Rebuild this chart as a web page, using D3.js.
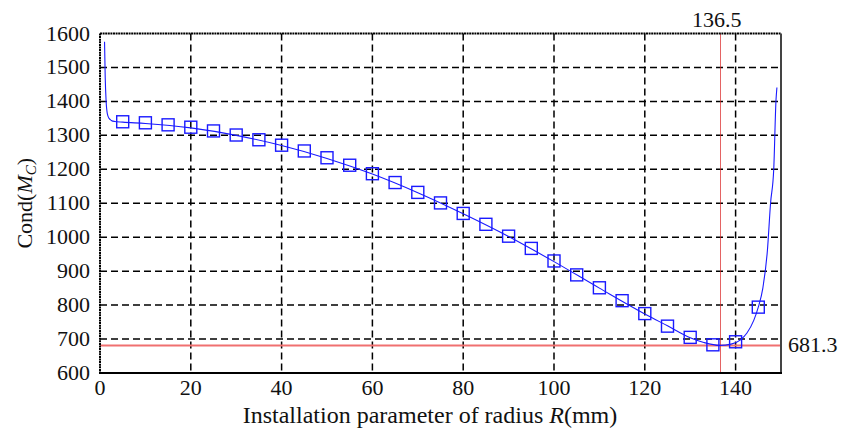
<!DOCTYPE html>
<html>
<head>
<meta charset="utf-8">
<script src="https://cdn.jsdelivr.net/npm/d3@7"></script>
<style>
  body { margin: 0; background: #fff; }
</style>
</head>
<body>
<div id="app"></div>
<script>

//
// Data
//

// sampled points (markers), every 5 mm
const markerR = [5, 10, 15, 20, 25, 30, 35, 40, 45, 50, 55, 60, 65, 70, 75,
  80, 85, 90, 95, 100, 105, 110, 115, 120, 125, 130, 135, 140, 145]
const markerCond = [1340, 1337, 1331, 1324, 1313, 1301, 1287, 1271, 1254, 1234, 1212, 1187, 1161, 1132, 1101,
  1070, 1038, 1003, 967, 930, 889, 851, 813, 775, 738, 705, 683, 692, 794]

// continuous curve
const curveR = [1.0, 1.15, 1.35, 1.6, 2.0, 2.5, 3.2, 5, 10, 20, 30, 40, 50, 60, 70, 80, 90, 100,
  110, 120, 125, 130, 133, 136.5, 139, 141, 142.5, 144, 145, 146, 147, 147.7, 148.4, 148.9, 149.1]
const curveCond = [1576, 1470, 1400, 1365, 1350, 1344, 1341, 1339, 1335, 1322, 1300, 1270, 1232, 1186, 1131, 1069, 1002, 928,
  850, 774, 739, 704, 690, 681.3, 685, 697, 718, 755, 794, 850, 960, 1100, 1200, 1404, 1441]

const xTicks = [0, 20, 40, 60, 80, 100, 120, 140]
const yTicks = [600, 700, 800, 900, 1000, 1100, 1200, 1300, 1400, 1500, 1600]

const minR = 136.5
const minCond = 681.3


//
// Constants
//

const width = 856
const height = 429
const margin = { top: 33.5, right: 75, bottom: 56, left: 100 }
const innerW = width - margin.left - margin.right
const innerH = height - margin.top - margin.bottom
const blue = '#1a1aff'
const fontSize = 22
const titleSize = 24
const serif = '"Liberation Serif", "Times New Roman", Times, "DejaVu Serif", serif'


//
// Scales
//

const x = d3.scaleLinear().domain([0, 150]).range([0, innerW])
const y = d3.scaleLinear().domain([600, 1600]).range([innerH, 0])


//
// Chart
//

const svg = d3.select('#app').append('svg')
  .attr('width', width)
  .attr('height', height)
  .style('font-family', serif)
  .attr('fill', '#111')

const g = svg.append('g').attr('transform', `translate(${margin.left},${margin.top})`)

// dashed grid
g.append('g')
  .selectAll('line').data(xTicks.filter(d => d > 0))
  .join('line')
  .attr('x1', d => x(d)).attr('x2', d => x(d))
  .attr('y1', 0).attr('y2', innerH)
  .attr('stroke', '#000').attr('stroke-width', 1.5)
  .attr('stroke-dasharray', '7,4')

g.append('g')
  .selectAll('line').data(yTicks.filter(d => d > 600 && d < 1600))
  .join('line')
  .attr('x1', 0).attr('x2', innerW)
  .attr('y1', d => y(d)).attr('y2', d => y(d))
  .attr('stroke', '#000').attr('stroke-width', 1.5)
  .attr('stroke-dasharray', '7,4')

// minimum markers
g.append('line')
  .attr('x1', 0).attr('x2', innerW)
  .attr('y1', y(minCond)).attr('y2', y(minCond))
  .attr('stroke', '#f07070').attr('stroke-width', 2)

const xm = Math.round(margin.left + x(minR)) + 0.5 - margin.left
g.append('line')
  .attr('x1', xm).attr('x2', xm)
  .attr('y1', 0).attr('y2', innerH)
  .attr('stroke', '#d82020').attr('stroke-width', 0.7)

// curve
const line = d3.line()
  .x((d, i) => x(curveR[i]))
  .y(d => y(d))
  .curve(d3.curveMonotoneX)

g.append('path')
  .datum(curveCond)
  .attr('d', line)
  .attr('fill', 'none')
  .attr('stroke', blue)
  .attr('stroke-width', 1.1)

// square markers
const ms = 12
g.append('g')
  .selectAll('rect').data(markerCond)
  .join('rect')
  .attr('x', (d, i) => x(markerR[i]) - ms / 2)
  .attr('y', d => y(d) - ms / 2)
  .attr('width', ms).attr('height', ms)
  .attr('fill', 'none')
  .attr('stroke', blue)
  .attr('stroke-width', 1.4)

// frame
g.append('line').attr('x1', 0).attr('x2', innerW).attr('y1', 0).attr('y2', 0)
  .attr('stroke', '#000').attr('stroke-width', 2).attr('stroke-dasharray', '2,0.6')
g.append('line').attr('x1', 0).attr('x2', 0).attr('y1', 0).attr('y2', innerH)
  .attr('stroke', '#000').attr('stroke-width', 2).attr('stroke-dasharray', '2,0.6')
g.append('line').attr('x1', innerW).attr('x2', innerW).attr('y1', 0).attr('y2', innerH)
  .attr('stroke', '#444').attr('stroke-width', 2)
g.append('line').attr('x1', -1).attr('x2', innerW + 1).attr('y1', innerH).attr('y2', innerH)
  .attr('stroke', '#000').attr('stroke-width', 2)

// tick labels
g.append('g')
  .selectAll('text').data(xTicks)
  .join('text')
  .attr('x', d => x(d))
  .attr('y', innerH + 22)
  .attr('text-anchor', 'middle')
  .attr('font-size', fontSize)
  .text(d => d)

g.append('g')
  .selectAll('text').data(yTicks)
  .join('text')
  .attr('x', -10)
  .attr('y', d => y(d) + 7)
  .attr('text-anchor', 'end')
  .attr('font-size', fontSize)
  .text(d => d)

// annotations
g.append('text')
  .attr('x', x(minR) - 3)
  .attr('y', -7)
  .attr('text-anchor', 'middle')
  .attr('font-size', fontSize)
  .text(minR)

g.append('text')
  .attr('x', innerW + 7)
  .attr('y', y(minCond) + 7)
  .attr('font-size', fontSize)
  .text(minCond)

// axis titles
const xt = svg.append('text')
  .attr('x', 430)
  .attr('y', 423)
  .attr('text-anchor', 'middle')
  .attr('font-size', titleSize)
xt.append('tspan').text('Installation parameter of radius ')
xt.append('tspan').attr('font-style', 'italic').text('R')
xt.append('tspan').text('(mm)')

const yt = svg.append('text')
  .attr('transform', `translate(32,${margin.top + innerH / 2}) rotate(-90)`)
  .attr('text-anchor', 'middle')
  .attr('font-size', fontSize)
yt.append('tspan').text('Cond(')
yt.append('tspan').attr('font-style', 'italic').text('M')
yt.append('tspan').attr('font-style', 'italic').attr('font-size', 15).attr('dy', 4).text('C')
yt.append('tspan').attr('dy', -4).text(')')

</script>
</body>
</html>
